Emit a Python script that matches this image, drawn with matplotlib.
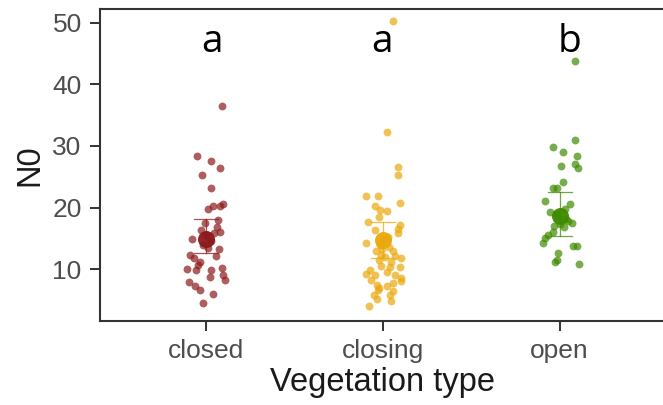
import matplotlib
matplotlib.use("Agg")
import matplotlib.pyplot as plt

# kategoriler ve renkler
kategoriler = ["closed", "closing", "open"]
renkler = ["#8B1A1A", "#EBA80C", "#3F8A00"]
harfler = ["a", "a", "b"]

# noktalar: (yatay kayma [px], N0)
closed_dx = [16, -9, 5, 14, -4, 5, 17, 14, 7, 2, 12, -1, 11, 14, -14, 0, 5, -3, 8, 2, -5,
             -16, 10, -6, -8, -19, -10, 5, 16, 17, 4, 19, -17, -11, -6, 7, -3, -12, 13]
closed_y = [36.5, 28.3, 27.6, 26.4, 25.3, 23.1, 20.5, 20.2, 20.2, 19.8, 18.0, 17.5, 16.9, 16.1,
            14.9, 15.5, 14.5, 14.0, 15.8, 13.5, 16.3, 12.3, 12.2, 11.2, 10.7, 10.0, 9.9, 9.9,
            10.2, 9.1, 8.7, 8.2, 8.0, 7.3, 6.6, 6.0, 4.6, 11.8, 13.2]

closing_dx = [4, 15, 15, -17, -5, 17, -8, -3, 4, -4, -15, 17, 15, -8, 15, -17, 0, 5, -3, 6,
              -7, -2, 2, 12, 18, -4, 8, -2, 7, 17, -13, -17, -8, 4, 12, 18, -12, -6, 10, 18,
              -4, 4, -5, 10, -9, 7, -6, 8, -14, -1, 10, 10]
closing_y = [32.3, 26.5, 25.3, 21.9, 21.9, 20.8, 20.2, 19.6, 19.5, 18.4, 17.7, 17.2, 16.5, 16.4,
             15.9, 14.2, 14.8, 15.3, 14.0, 13.6, 12.9, 12.3, 12.0, 12.1, 11.8, 11.5, 11.2, 10.5,
             10.4, 10.3, 9.8, 9.3, 9.1, 9.6, 9.0, 8.6, 8.2, 7.4, 7.8, 8.1, 7.0, 7.3, 6.6, 6.4,
             5.8, 5.8, 5.1, 4.8, 4.1, 13.2, 13.0, 50.2]

open_dx = [15, 15, -7, 3, 17, 1, 15, 18, 3, -7, -3, -15, 10, -10, 5, -2, 8, 0, 4, -4, 12,
           -7, -12, -15, -17, 13, 17, -2, -3, -5, 19, 6, -6]
open_y = [43.8, 30.9, 29.8, 29.0, 28.3, 26.8, 27.1, 26.4, 24.2, 23.1, 23.2, 21.1, 20.6, 19.3,
          19.8, 18.5, 17.8, 17.3, 16.8, 19.0, 17.5, 16.1, 15.6, 15.0, 14.3, 13.8, 13.7, 12.6,
          11.5, 11.1, 10.9, 18.2, 17.0]

# ortalama ve hata çubukları
ortalama = [14.9, 14.75, 18.6]
alt_sinir = [12.6, 11.8, 15.4]
ust_sinir = [18.2, 17.7, 22.5]

gruplar = [(closed_dx, closed_y), (closing_dx, closing_y), (open_dx, open_y)]

fig = plt.figure(figsize=(6.63, 4.05), dpi=100)
ax = fig.add_axes([0.1505, 0.2074, 0.8537, 0.7704])

px_birim = 177.0
for i, ((dx, y), renk) in enumerate(zip(gruplar, renkler)):
    x0 = i + 1
    xs = [x0 + d / px_birim for d in dx]
    ax.scatter(xs, y, s=32, color=renk, alpha=0.7, linewidths=0, zorder=3)
    # hata çubuğu
    ax.plot([x0, x0], [alt_sinir[i], ust_sinir[i]], color=renk, lw=0.9, alpha=0.75, zorder=2)
    for yy in (alt_sinir[i], ust_sinir[i]):
        ax.plot([x0 - 0.068, x0 + 0.068], [yy, yy], color=renk, lw=0.9, alpha=0.75, zorder=2)
    ax.scatter([x0], [ortalama[i]], s=150, color=renk, alpha=0.95, linewidths=0, zorder=4)

# harfler
harf_x = [1.034, 1.994, 3.056]
for hx, h in zip(harf_x, harfler):
    ax.text(hx, 45.3, h, ha="center", va="baseline", fontsize=28,
            family="Open Sans", color="black")

ax.set_xlim(0.4, 3.6)
ax.set_ylim(1.6, 52.2)
ax.set_xticks([1, 2, 3])
ax.set_xticklabels(kategoriler)
ax.set_yticks([10, 20, 30, 40, 50])

for s in ax.spines.values():
    s.set_linewidth(1.5)
    s.set_color("#333333")

ax.tick_params(axis="both", length=7, width=1.4, color="#333333",
               labelsize=19, labelcolor="#4D4D4D", pad=6)
for lab in ax.get_xticklabels() + ax.get_yticklabels():
    lab.set_family("Liberation Sans")

ax.set_xlabel("Vegetation type", fontsize=23.5, family="Liberation Sans",
              color="#1A1A1A", labelpad=3)
ax.set_ylabel("N0", fontsize=23.5, family="Liberation Sans",
              color="#1A1A1A", labelpad=5)

fig.savefig("out.png", dpi=100)
